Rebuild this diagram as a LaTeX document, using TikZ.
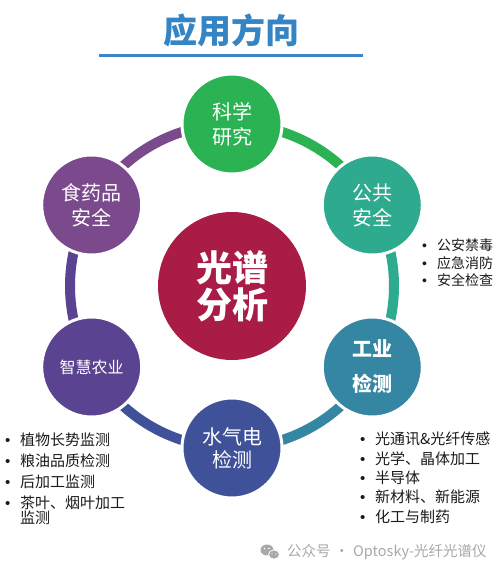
\documentclass[tikz,border=0pt]{standalone}
\usepackage{fontspec}
\usetikzlibrary{calc}
\setmainfont{Noto Sans CJK SC}
\newfontfamily\bulfont{Liberation Sans}
\definecolor{ctitle}{HTML}{3584C4}
\definecolor{cline}{HTML}{3A86C6}
\definecolor{csci}{HTML}{2BB353}
\definecolor{cpub}{HTML}{2EAA8E}
\definecolor{cind}{HTML}{3586A3}
\definecolor{cwat}{HTML}{3F5198}
\definecolor{cagr}{HTML}{5A4390}
\definecolor{cfood}{HTML}{7B4A8C}
\definecolor{ccen}{HTML}{A91C45}
\definecolor{ctext}{HTML}{1A1A1A}
\definecolor{cfoot}{HTML}{A8A8A8}
\tikzset{
  hub/.style={circle, minimum size=100pt, inner sep=0pt, draw=white, line width=3pt, text=white, align=center, font=\fontsize{20}{25}\selectfont},
  core/.style={circle, minimum size=148pt, inner sep=0pt, fill=ccen, text=white, align=center, font=\fontsize{36}{37}\selectfont\bfseries},
  seg/.style={line width=10pt},
  blist/.style={anchor=north west, inner sep=0pt, align=left, text=ctext}
}
\newcommand{\itm}[1]{\makebox[15pt][l]{{\bulfont •}}#1}
\begin{document}
\begin{tikzpicture}[x=1pt,y=1pt]
\useasboundingbox (0,0) rectangle (498,571);
% title
\node[text=ctitle, font=\fontsize{34}{34}\selectfont\bfseries, inner sep=0pt] (title) at (231,541) {应用方向};
\coordinate (ulA) at (99,515);
\coordinate (ulB) at (363,515);
\draw[cline, line width=3pt] (ulA) -- (ulB);
% ring
\coordinate (c) at (232,285);
\draw[seg, cfood] (c) ++(150:162) arc[start angle=150, end angle=90, radius=162];
\draw[seg, csci] (c) ++(90:162) arc[start angle=90, end angle=30, radius=162];
\draw[seg, cpub] (c) ++(30:162) arc[start angle=30, end angle=-30, radius=162];
\draw[seg, cind] (c) ++(-30:162) arc[start angle=-30, end angle=-90, radius=162];
\draw[seg, cwat] (c) ++(-90:162) arc[start angle=-90, end angle=-150, radius=162];
\draw[seg, cagr] (c) ++(-150:162) arc[start angle=-150, end angle=-210, radius=162];
% hubs
\node[core] (core) at (c) {光谱\\分析};
\node[hub, fill=csci] (sci) at ($(c)+(90:162)$) {科学\\研究};
\node[hub, fill=cpub] (pub) at ($(c)+(30:162)$) {公共\\安全};
\node[hub, fill=cind, font=\fontsize{20}{35}\selectfont\bfseries] (ind) at ($(c)+(-30:162)$) {工业\\检测};
\node[hub, fill=cwat, font=\fontsize{20}{23}\selectfont] (wat) at ($(c)+(-90:162)$) {水气电\\检测};
\node[hub, fill=cagr, font=\fontsize{16}{20}\selectfont] (agr) at ($(c)+(-150:162)$) {智慧农业};
\node[hub, fill=cfood] (food) at ($(c)+(150:162)$) {食药品\\安全};
% lists
\node[blist, font=\fontsize{14}{17.5}\selectfont] (l1) at (422,332) {\itm{公安禁毒}\\\itm{应急消防}\\\itm{安全检查}};
\node[blist, font=\fontsize{15}{19.3}\selectfont] (l2) at (360,139) {\itm{光通讯\&光纤传感}\\\itm{光学、晶体加工}\\\itm{半导体}\\\itm{新材料、新能源}\\\itm{化工与制药}};
\node[blist, font=\fontsize{15}{21}\selectfont] (l3) at (5,138) {\itm{植物长势监测}\\\itm{粮油品质检测}\\\itm{后加工监测}\\\itm{茶叶、烟叶加工}\\[-6pt]\hspace*{15pt}监测};
% footer
\fill[cfoot] (267,21) ellipse (6.5pt and 5.5pt);
\fill[cfoot, draw=white, line width=0.8pt] (274,16.5) ellipse (5.5pt and 4.6pt);
\fill[white] (264.5,22.5) circle (0.9pt) (269,22.5) circle (0.9pt) (272,17) circle (0.7pt) (276,17) circle (0.7pt);
\node[anchor=west, inner sep=0pt, text=cfoot, font=\fontsize{14.5}{14.5}\selectfont] (foot) at (287,19) {公众号\hspace{4pt}·\hspace{4pt}Optosky-光纤光谱仪};
\end{tikzpicture}
\end{document}
